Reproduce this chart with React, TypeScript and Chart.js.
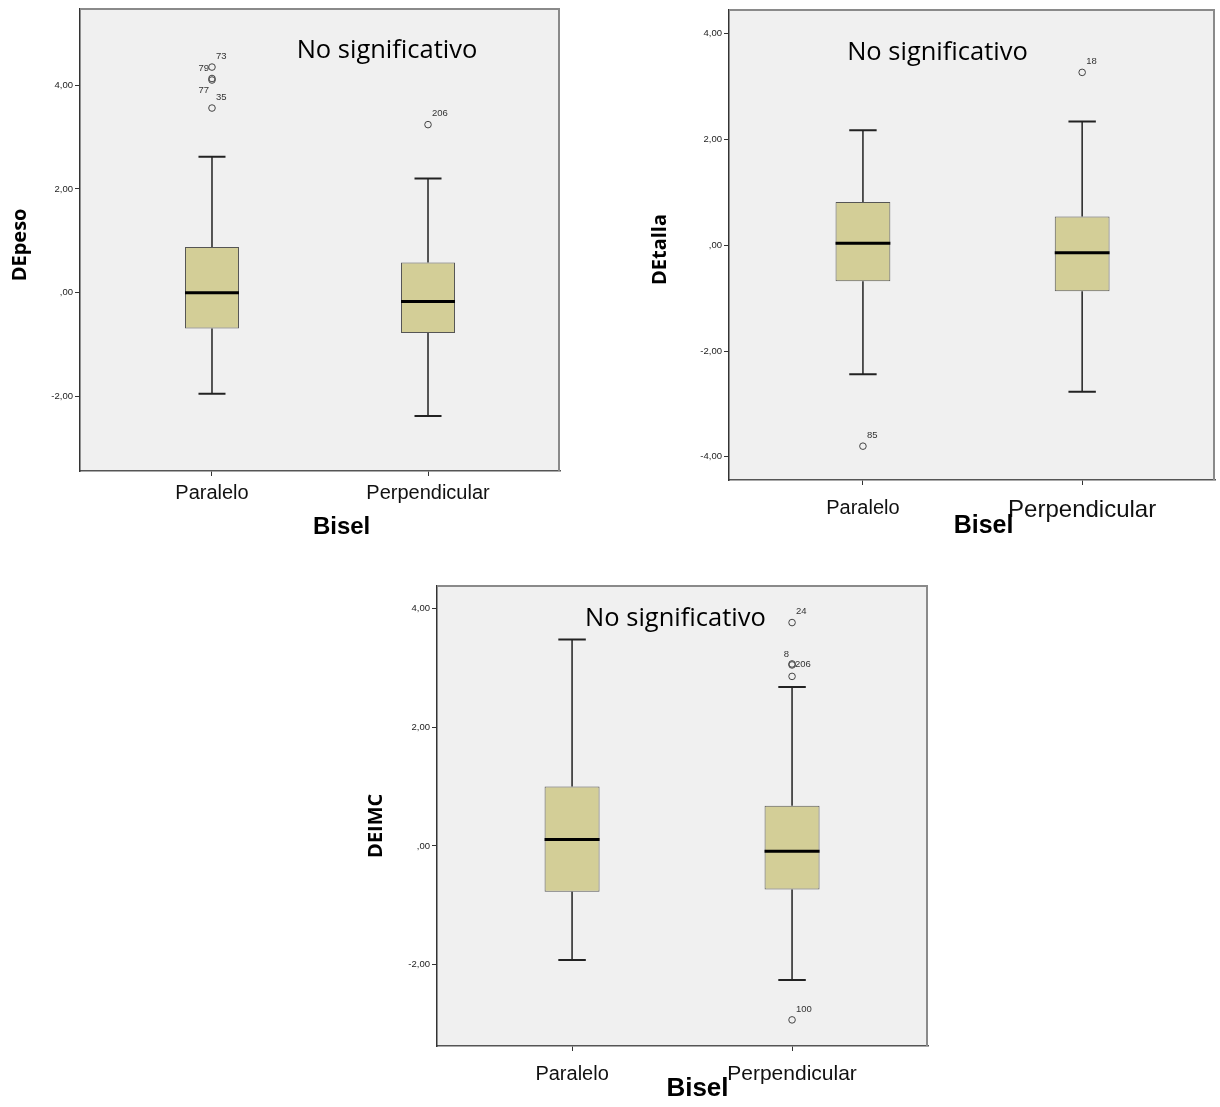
import React, { useEffect, useRef } from "react";
import { Chart, registerables } from "chart.js";

Chart.register(...registerables);
Chart.defaults.font.family = "'Liberation Sans', Arial, sans-serif";

// ---------- shared ----------
const CATEGORIES = ["Paralelo", "Perpendicular"];
const CATEGORY_POS = [0, 1];
const X_TITLE = "Bisel";
const NOTE = "No significativo";

// ---------- Chart 1: DEpeso ----------
const PESO_MIN = [-1.95, -2.38];
const PESO_Q1 = [-0.69, -0.78];
const PESO_MED = [0.0, -0.17];
const PESO_Q3 = [0.88, 0.58];
const PESO_MAX = [2.62, 2.2];
const PESO_OUT_CAT = [0, 0, 0, 0, 1];
const PESO_OUT_VAL = [4.35, 4.13, 4.1, 3.56, 3.24];
const PESO_OUT_ID = ["73", "79", "77", "35", "206"];
const PESO_OUT_PLACE = ["ur", "ul", "ll", "ur", "ur"];
const PESO_Y_TICKS = [-2, 0, 2, 4];
const PESO_Y_LABELS = ["-2,00", ",00", "2,00", "4,00"];

// ---------- Chart 2: DEtalla ----------
const TALLA_MIN = [-2.44, -2.77];
const TALLA_Q1 = [-0.68, -0.87];
const TALLA_MED = [0.04, -0.14];
const TALLA_Q3 = [0.82, 0.545];
const TALLA_MAX = [2.175, 2.34];
const TALLA_OUT_CAT = [0, 1];
const TALLA_OUT_VAL = [-3.8, 3.27];
const TALLA_OUT_ID = ["85", "18"];
const TALLA_OUT_PLACE = ["ur", "ur"];
const TALLA_Y_TICKS = [-4, -2, 0, 2, 4];
const TALLA_Y_LABELS = ["-4,00", "-2,00", ",00", "2,00", "4,00"];

// ---------- Chart 3: DEIMC ----------
const IMC_MIN = [-1.92, -2.26];
const IMC_Q1 = [-0.77, -0.734];
const IMC_MED = [0.11, -0.087];
const IMC_Q3 = [1.0, 0.676];
const IMC_MAX = [3.48, 2.68];
const IMC_OUT_CAT = [1, 1, 1, 1, 1];
const IMC_OUT_VAL = [3.764, 3.067, 3.05, 2.857, -2.93];
const IMC_OUT_ID = ["24", "8", "206", "", "100"];
const IMC_OUT_PLACE = ["ur", "ul", "r", "none", "ur"];
const IMC_Y_TICKS = [-2, 0, 2, 4];
const IMC_Y_LABELS = ["-2,00", ",00", "2,00", "4,00"];

type Spec = {
  min: number[]; q1: number[]; med: number[]; q3: number[]; max: number[];
  outCat: number[]; outVal: number[]; outId: string[]; outPlace: string[];
  yTicks: number[]; yLabels: string[]; yTitle: string;
  yMin: number; yMax: number; xMin: number; xMax: number;
  noteX: number; noteY: number; bisX: number; bisDy: number;
  yTitleX: number; yTitleY: number;
  frame: { left: number; top: number; w: number; h: number };
  pad: { left: number; top: number; right: number; bottom: number };
  yAxisW: number; xAxisH: number; xTickPad: number;
  catFont: number[]; bisFont: number;
};

const SPECS: Spec[] = [
  {
    min: PESO_MIN, q1: PESO_Q1, med: PESO_MED, q3: PESO_Q3, max: PESO_MAX,
    outCat: PESO_OUT_CAT, outVal: PESO_OUT_VAL, outId: PESO_OUT_ID, outPlace: PESO_OUT_PLACE,
    yTicks: PESO_Y_TICKS, yLabels: PESO_Y_LABELS, yTitle: "DEpeso",
    yMin: -3.44, yMax: 5.47, xMin: -0.611, xMax: 1.611,
    noteX: 0.81, noteY: 4.66, bisX: 0.6, bisDy: 56,
    yTitleX: 20, yTitleY: 0.92,
    frame: { left: 0, top: 0, w: 570, h: 545 },
    pad: { left: 0, top: 9, right: 10, bottom: 0 },
    yAxisW: 80, xAxisH: 74, xTickPad: 5,
    catFont: [20, 20], bisFont: 24,
  },
  {
    min: TALLA_MIN, q1: TALLA_Q1, med: TALLA_MED, q3: TALLA_Q3, max: TALLA_MAX,
    outCat: TALLA_OUT_CAT, outVal: TALLA_OUT_VAL, outId: TALLA_OUT_ID, outPlace: TALLA_OUT_PLACE,
    yTicks: TALLA_Y_TICKS, yLabels: TALLA_Y_LABELS, yTitle: "DEtalla",
    yMin: -4.44, yMax: 4.45, xMin: -0.611, xMax: 1.606,
    noteX: 0.34, noteY: 3.65, bisX: 0.55, bisDy: 46,
    yTitleX: 20, yTitleY: -0.08,
    frame: { left: 640, top: 0, w: 580, h: 545 },
    pad: { left: 0, top: 10, right: 1, bottom: 0 },
    yAxisW: 89, xAxisH: 65, xTickPad: 11,
    catFont: [20, 24], bisFont: 25,
  },
  {
    min: IMC_MIN, q1: IMC_Q1, med: IMC_MED, q3: IMC_Q3, max: IMC_MAX,
    outCat: IMC_OUT_CAT, outVal: IMC_OUT_VAL, outId: IMC_OUT_ID, outPlace: IMC_OUT_PLACE,
    yTicks: IMC_Y_TICKS, yLabels: IMC_Y_LABELS, yTitle: "DEIMC",
    yMin: -3.37, yMax: 4.38, xMin: -0.614, xMax: 1.618,
    noteX: 0.47, noteY: 3.83, bisX: 0.57, bisDy: 43,
    yTitleX: 16.5, yTitleY: 0.34,
    frame: { left: 360, top: 570, w: 580, h: 537 },
    pad: { left: 0, top: 16, right: 12, bottom: 0 },
    yAxisW: 77, xAxisH: 61, xTickPad: 11,
    catFont: [20, 21], bisFont: 26,
  },
];

const BOX_HALF = 0.125;
const CAP_HALF = 0.0625;

function segData(spec: Spec, kind: string) {
  const out: { x: number; y: number }[] = [];
  const gap = { x: NaN, y: NaN };
  CATEGORY_POS.forEach((p, i) => {
    if (kind === "median") {
      out.push({ x: p - BOX_HALF, y: spec.med[i] }, { x: p + BOX_HALF, y: spec.med[i] }, gap);
    } else if (kind === "whisker") {
      out.push({ x: p, y: spec.q3[i] }, { x: p, y: spec.max[i] }, gap);
      out.push({ x: p, y: spec.q1[i] }, { x: p, y: spec.min[i] }, gap);
    } else if (kind === "cap") {
      out.push({ x: p - CAP_HALF, y: spec.max[i] }, { x: p + CAP_HALF, y: spec.max[i] }, gap);
      out.push({ x: p - CAP_HALF, y: spec.min[i] }, { x: p + CAP_HALF, y: spec.min[i] }, gap);
    }
  });
  return out;
}

function makeConfig(spec: Spec): any {
  const plotFrame = {
    id: "plotFrame",
    beforeDraw(chart: any) {
      const { ctx, chartArea: a } = chart;
      ctx.save();
      ctx.fillStyle = "#f0f0f0";
      ctx.fillRect(a.left, a.top, a.right - a.left, a.bottom - a.top);
      ctx.restore();
    },
    afterDraw(chart: any) {
      const { ctx, chartArea: a } = chart;
      ctx.save();
      ctx.strokeStyle = "#8a8a8a";
      ctx.lineWidth = 2;
      ctx.beginPath();
      ctx.moveTo(a.left, a.top);
      ctx.lineTo(a.right - 1, a.top);
      ctx.lineTo(a.right - 1, a.bottom);
      ctx.stroke();
      ctx.restore();
    },
  };
  const texts = {
    id: "texts",
    afterDraw(chart: any) {
      const { ctx, chartArea: a } = chart;
      const xs = chart.scales.x;
      const ys = chart.scales.y;
      ctx.save();
      // note
      ctx.fillStyle = "#000";
      ctx.font = "25.5px 'Open Sans'";
      ctx.textAlign = "center";
      ctx.textBaseline = "middle";
      ctx.fillText(NOTE, xs.getPixelForValue(spec.noteX), ys.getPixelForValue(spec.noteY));
      // x title
      ctx.font = `bold ${spec.bisFont}px 'Liberation Sans', Arial`;
      ctx.fillText(X_TITLE, xs.getPixelForValue(spec.bisX), a.bottom + spec.bisDy);
      // y title
      ctx.save();
      ctx.translate(spec.yTitleX, ys.getPixelForValue(spec.yTitleY));
      ctx.rotate(-Math.PI / 2);
      ctx.font = "bold 20px 'Open Sans'";
      ctx.fillText(spec.yTitle, 0, 0);
      ctx.restore();
      // outlier labels
      ctx.font = "9.5px 'Liberation Sans', Arial";
      ctx.fillStyle = "#333";
      spec.outVal.forEach((v, i) => {
        const place = spec.outPlace[i];
        if (place === "none" || !spec.outId[i]) return;
        const px = xs.getPixelForValue(CATEGORY_POS[spec.outCat[i]]);
        const py = ys.getPixelForValue(v);
        let dx = 4, dy = -11, align: CanvasTextAlign = "left";
        if (place === "ul") { dx = -3; dy = -10; align = "right"; }
        if (place === "ll") { dx = -3; dy = 10; align = "right"; }
        if (place === "r") { dx = 3; dy = -1; align = "left"; }
        ctx.textAlign = align;
        ctx.fillText(spec.outId[i], px + dx, py + dy);
      });
      ctx.restore();
    },
  };

  return {
    type: "scatter",
    data: {
      datasets: [
        {
          type: "scatter",
          label: "outliers",
          data: spec.outVal.map((v, i) => ({ x: CATEGORY_POS[spec.outCat[i]], y: v })),
          pointRadius: 3.3,
          pointBorderWidth: 1,
          borderColor: "#444",
          backgroundColor: "rgba(0,0,0,0)",
          order: 0,
        },
        {
          type: "scatter",
          label: "median",
          data: segData(spec, "median"),
          showLine: true,
          borderColor: "#000",
          borderWidth: 3,
          pointRadius: 0,
          spanGaps: false,
          order: 1,
        },
        {
          type: "scatter",
          label: "whisker",
          data: segData(spec, "whisker"),
          showLine: true,
          borderColor: "#222",
          borderWidth: 1.5,
          pointRadius: 0,
          spanGaps: false,
          order: 2,
        },
        {
          type: "scatter",
          label: "cap",
          data: segData(spec, "cap"),
          showLine: true,
          borderColor: "#222",
          borderWidth: 2,
          pointRadius: 0,
          spanGaps: false,
          order: 2,
        },
        {
          type: "bar",
          label: "box",
          data: CATEGORY_POS.map((p, i) => ({ x: p, y: [spec.q1[i], spec.q3[i]] })),
          backgroundColor: "#d3ce97",
          borderColor: "#555",
          borderWidth: 1,
          borderSkipped: false,
          barPercentage: BOX_HALF * 2,
          categoryPercentage: 1,
          order: 10,
        },
      ],
    },
    options: {
      responsive: false,
      animation: false,
      devicePixelRatio: 1,
      layout: { padding: spec.pad },
      plugins: { legend: { display: false }, tooltip: { enabled: false } },
      scales: {
        x: {
          type: "linear",
          min: spec.xMin,
          max: spec.xMax,
          offset: false,
          afterBuildTicks: (s: any) => { s.ticks = CATEGORY_POS.map((v) => ({ value: v })); },
          afterFit: (s: any) => { s.height = spec.xAxisH; },
          ticks: {
            autoSkip: false,
            maxRotation: 0,
            padding: spec.xTickPad,
            color: "#111",
            font: (c: any) => ({ size: spec.catFont[c.index] ?? 20 }),
            callback: (_v: any, i: number) => CATEGORIES[i],
          },
          grid: { offset: false, drawOnChartArea: false, drawTicks: true, tickLength: 5, color: "#333" },
          border: { display: true, color: "#555", width: 1.5 },
        },
        y: {
          type: "linear",
          min: spec.yMin,
          max: spec.yMax,
          afterBuildTicks: (s: any) => { s.ticks = spec.yTicks.map((v) => ({ value: v })); },
          afterFit: (s: any) => { s.width = spec.yAxisW; },
          ticks: {
            padding: 2,
            color: "#222",
            font: { size: 9.5 },
            callback: (_v: any, i: number) => spec.yLabels[i],
          },
          grid: { offset: false, drawOnChartArea: false, drawTicks: true, tickLength: 5, color: "#333" },
          border: { display: true, color: "#333", width: 1.5 },
          title: { display: false },
        },
      },
    },
    plugins: [plotFrame, texts],
  };
}

function BoxChart({ spec }: { spec: Spec }) {
  const ref = useRef<HTMLCanvasElement>(null);
  useEffect(() => {
    const chart = new Chart(ref.current as HTMLCanvasElement, makeConfig(spec));
    return () => chart.destroy();
  }, [spec]);
  const f = spec.frame;
  return (
    <div style={{ position: "absolute", left: f.left, top: f.top, width: f.w, height: f.h }}>
      <canvas ref={ref} width={f.w} height={f.h} style={{ width: f.w, height: f.h, display: "block" }} />
    </div>
  );
}

export default function App() {
  return (
    <div style={{ position: "absolute", left: 0, top: 0, width: 1220, height: 1107, background: "#fff" }}>
      {SPECS.map((s, i) => (
        <BoxChart key={i} spec={s} />
      ))}
    </div>
  );
}
